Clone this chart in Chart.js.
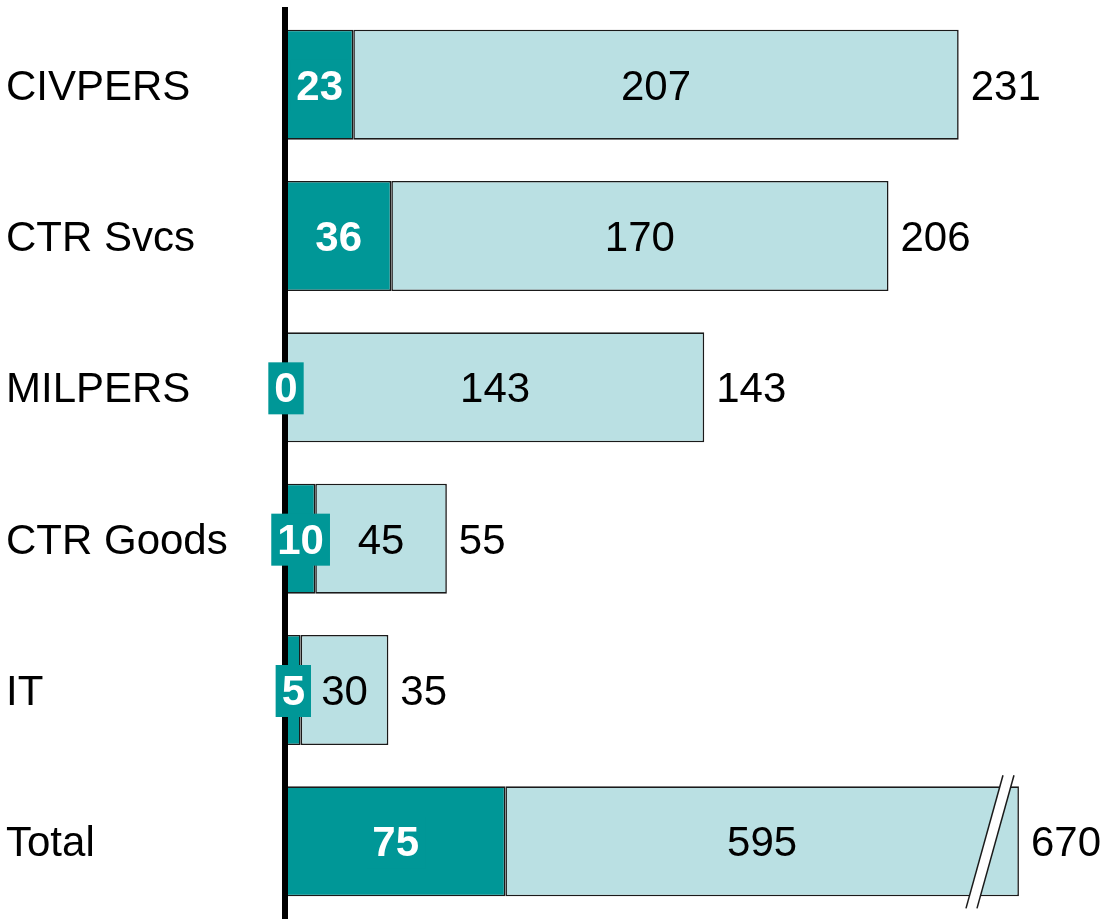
<!DOCTYPE html>
<html><head><meta charset="utf-8">
<script src="https://cdn.jsdelivr.net/npm/chart.js@4/dist/chart.umd.min.js"></script>
<style>html,body{margin:0;padding:0;background:#fff;overflow:hidden}#wrap{width:1102px;height:919px;position:relative}</style>
</head><body><div id="wrap"><canvas id="c"></canvas></div>
<script>
const categories = ['CIVPERS', 'CTR Svcs', 'MILPERS', 'CTR Goods', 'IT', 'Total'];
const darkValues = [23, 36, 0, 10, 5, 75];
const lightValues = [207, 170, 143, 45, 30, 595];
const totals = [231, 206, 143, 55, 35, 670];
const axisMax = 279;      // value scale extent
const breakAt = 250.6;    // where the broken Total bar is cut off
const breakMark = 240.7;  // where the break symbol sits

const DARK = '#009797';
const LIGHT = '#BAE0E3';
const EDGE = '#1a1a1a';
const FONT = '"Liberation Sans", Arial, Helvetica, sans-serif';
const FS = 42;
const TY = 3.5; // vertical text nudge
Chart.defaults.font.family = FONT;

const lightDisplay = lightValues.map((v, i) => Math.min(darkValues[i] + v, breakAt) - darkValues[i]);

const overlay = {
  id: 'overlay',
  afterDatasetsDraw(chart) {
    const ctx = chart.ctx, xs = chart.scales.x, ys = chart.scales.y;
    const metaD = chart.getDatasetMeta(0), metaL = chart.getDatasetMeta(1);
    ctx.save();
    // break symbol on the Total bar
    const tb = metaL.data[5];
    const top = tb.y - tb.height / 2, bot = tb.y + tb.height / 2;
    const cx = xs.getPixelForValue(breakMark);
    const y1 = top - 11, y2 = bot + 12, cy = (y1 + y2) / 2;
    const slope = 37 / 133;
    const xAt = (off, y) => cx + off - (y - cy) * slope;
    ctx.fillStyle = '#fff';
    ctx.beginPath();
    ctx.moveTo(xAt(-5.5, y2), y2); ctx.lineTo(xAt(-5.5, y1), y1);
    ctx.lineTo(xAt(5.5, y1), y1); ctx.lineTo(xAt(5.5, y2), y2);
    ctx.closePath(); ctx.fill();
    ctx.strokeStyle = EDGE; ctx.lineWidth = 1.5;
    [-5.5, 5.5].forEach(off => {
      ctx.beginPath(); ctx.moveTo(xAt(off, y2), y2); ctx.lineTo(xAt(off, y1), y1); ctx.stroke();
    });
    // axis line
    const x0 = xs.getPixelForValue(0);
    ctx.fillStyle = '#000';
    ctx.fillRect(x0 - 4, 7, 6, 919 - 7);
    ctx.textBaseline = 'middle';
    // category labels
    ctx.font = FS + 'px ' + FONT;
    ctx.fillStyle = '#000'; ctx.textAlign = 'left';
    categories.forEach((c, i) => ctx.fillText(c, 6, ys.getPixelForValue(i) + TY));
    // dark segment labels
    metaD.data.forEach((b, i) => {
      const cxs = (b.base + b.x) / 2;
      ctx.font = 'bold ' + FS + 'px ' + FONT;
      const txt = String(darkValues[i]);
      const w = ctx.measureText(txt).width;
      ctx.fillStyle = DARK;
      ctx.fillRect(cxs - w / 2 - 6, b.y - 25, w + 12, 52);
      ctx.fillStyle = '#fff'; ctx.textAlign = 'center';
      ctx.fillText(txt, cxs, b.y + TY);
    });
    // light segment labels and totals
    ctx.font = FS + 'px ' + FONT;
    metaL.data.forEach((b, i) => {
      ctx.fillStyle = '#000'; ctx.textAlign = 'center';
      ctx.fillText(String(lightValues[i]), (b.base + b.x) / 2, b.y + TY);
      ctx.textAlign = 'left';
      ctx.fillText(String(totals[i]), b.x + 12, b.y + TY);
    });
    ctx.restore();
  }
};

new Chart(document.getElementById('c'), {
  type: 'bar',
  data: {
    labels: categories,
    datasets: [
      { data: darkValues, backgroundColor: DARK, borderColor: EDGE, borderWidth: 1.6, borderSkipped: false },
      { data: lightDisplay, backgroundColor: LIGHT, borderColor: EDGE, borderWidth: 1.6, borderSkipped: false }
    ]
  },
  options: {
    indexAxis: 'y',
    responsive: true,
    maintainAspectRatio: false,
    animation: false,
    layout: { padding: { left: 286, top: 9, right: 0, bottom: 2 } },
    datasets: { bar: { categoryPercentage: 1, barPercentage: 0.727 } },
    plugins: { legend: { display: false }, tooltip: { enabled: false } },
    scales: {
      x: { display: false, stacked: true, min: 0, max: axisMax },
      y: { display: false, stacked: true }
    }
  },
  plugins: [overlay]
});
</script>
</body></html>
